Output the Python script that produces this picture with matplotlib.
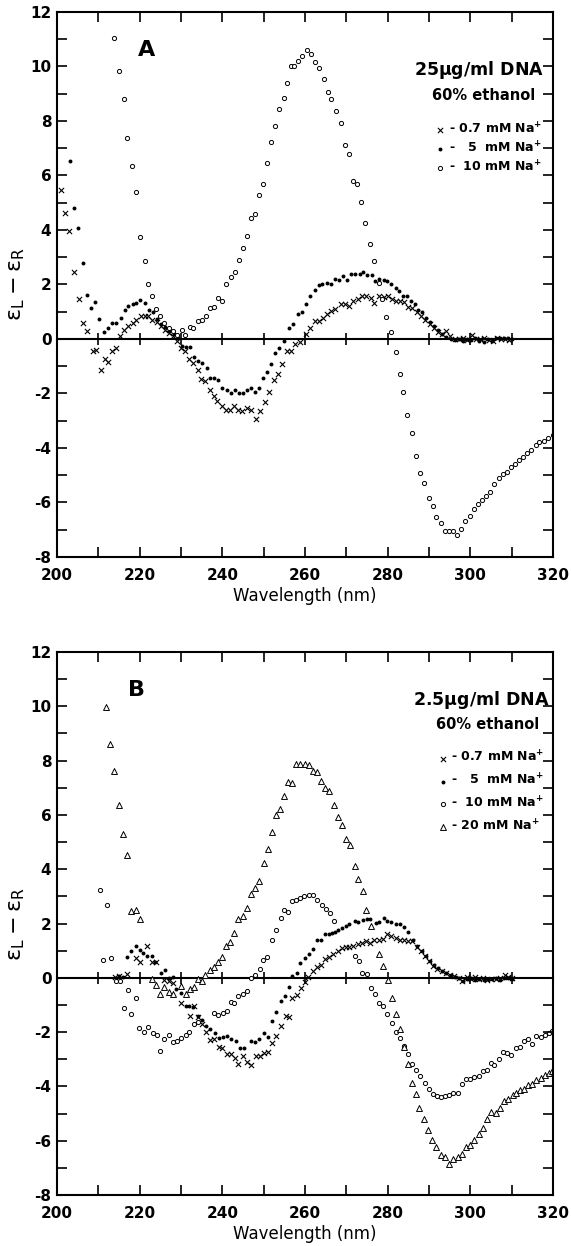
import matplotlib
matplotlib.use("Agg")
import matplotlib.pyplot as plt
from matplotlib.ticker import MultipleLocator

# ---- panel A: 25 ug/ml DNA, 60% ethanol ----
wl_a_07 = [201.0, 202.0, 202.9, 204.0, 205.3, 206.2, 207.2, 208.6, 209.4, 210.6, 211.5, 212.4, 213.4, 214.3,
           215.3, 216.3, 217.3, 218.3, 219.2, 220.3, 221.2, 222.1, 223.1, 224.1, 225.1, 226.1, 227.1, 228.1,
           229.0, 230.0, 231.0, 232.0, 233.0, 234.0, 234.9, 235.9, 236.9, 237.9, 238.8, 239.8, 240.9, 241.8,
           242.8, 243.8, 244.7, 245.9, 247.0, 248.2, 249.2, 250.3, 251.4, 252.4, 253.4, 254.5, 255.6, 256.5,
           257.5, 258.7, 260.2, 261.3, 262.3, 263.4, 264.3, 265.3, 266.4, 267.3, 268.6, 269.7, 270.7, 271.6,
           272.8, 273.8, 274.7, 275.9, 276.8, 277.9, 279.0, 280.1, 281.0, 282.0, 282.9, 284.0, 285.0, 286.0,
           287.1, 288.1, 289.1, 290.2, 291.1, 292.1, 293.1, 294.1, 295.1, 296.2, 297.2, 298.2, 299.3, 300.3,
           301.3, 302.4, 303.3, 304.4, 305.4, 306.4, 307.4, 308.4, 309.4]
cd_a_07 = [5.45, 4.64, 3.97, 2.44, 1.46, 0.58, 0.31, -0.45, -0.41, -1.14, -0.74, -0.84, -0.45, -0.33,
           0.10, 0.32, 0.47, 0.57, 0.71, 0.83, 0.83, 0.86, 0.71, 0.61, 0.47, 0.32, 0.22, 0.10,
           -0.07, -0.33, -0.44, -0.73, -0.87, -1.14, -1.46, -1.53, -1.86, -2.08, -2.26, -2.47, -2.59, -2.59,
           -2.45, -2.59, -2.66, -2.52, -2.59, -2.95, -2.63, -2.30, -1.94, -1.50, -1.28, -0.92, -0.45, -0.45,
           -0.19, -0.12, 0.17, 0.39, 0.65, 0.65, 0.76, 0.90, 1.03, 1.09, 1.27, 1.30, 1.22, 1.41,
           1.47, 1.56, 1.56, 1.51, 1.31, 1.56, 1.53, 1.59, 1.48, 1.41, 1.38, 1.34, 1.19, 1.12,
           0.98, 0.83, 0.68, 0.54, 0.39, 0.25, 0.17, 0.28, 0.10, 0.00, -0.01, 0.03, -0.04, 0.13,
           -0.01, 0.00, 0.03, -0.04, -0.07, 0.03, 0.00, 0.00, -0.04]

wl_a_5 = [203.1, 204.1, 205.2, 206.2, 207.2, 208.3, 209.3, 210.2, 211.3, 212.3, 213.3, 214.3, 215.4, 216.4,
          217.3, 218.3, 219.2, 220.2, 221.2, 222.2, 223.2, 224.2, 225.2, 226.2, 227.2, 228.2, 229.2, 230.2,
          231.2, 232.2, 233.1, 234.1, 235.0, 236.2, 237.0, 238.0, 239.0, 240.0, 241.1, 242.1, 243.1, 244.0,
          245.0, 246.0, 247.0, 248.0, 248.8, 249.8, 250.7, 251.8, 252.7, 253.7, 254.8, 256.1, 257.2, 258.2,
          259.2, 260.3, 261.3, 262.3, 263.3, 264.2, 265.3, 266.4, 267.3, 268.2, 269.3, 270.1, 271.1, 272.2,
          273.2, 274.1, 275.0, 276.1, 277.0, 278.0, 279.0, 279.9, 280.9, 281.9, 282.8, 283.8, 284.7, 285.6,
          286.5, 287.4, 288.3, 289.3, 290.3, 291.2, 292.1, 293.1, 294.1, 295.3, 296.2, 297.2, 298.2, 299.2,
          300.2, 301.2, 302.2, 303.2, 304.2, 305.2, 306.2, 307.2, 308.2, 309.2, 310.0]
cd_a_5 = [6.54, 4.82, 4.09, 2.78, 1.60, 1.14, 1.36, 0.73, 0.27, 0.42, 0.58, 0.60, 0.76, 1.06,
          1.22, 1.29, 1.33, 1.43, 1.33, 1.05, 1.00, 0.75, 0.55, 0.45, 0.30, 0.20, 0.05, -0.26,
          -0.28, -0.29, -0.65, -0.80, -0.87, -1.06, -1.43, -1.43, -1.50, -1.79, -1.86, -2.00, -1.89, -1.98,
          -2.00, -1.89, -1.79, -1.94, -1.79, -1.43, -1.21, -0.92, -0.52, -0.33, -0.07, 0.42, 0.54, 0.90,
          0.98, 1.27, 1.56, 1.80, 1.97, 2.00, 2.04, 2.00, 2.21, 2.18, 2.31, 2.18, 2.39, 2.39,
          2.39, 2.46, 2.36, 2.33, 2.11, 2.21, 2.18, 2.11, 2.02, 1.88, 1.76, 1.59, 1.56, 1.41,
          1.27, 1.05, 0.98, 0.76, 0.61, 0.47, 0.32, 0.17, 0.07, 0.00, -0.05, 0.00, -0.08, 0.00,
          -0.05, 0.03, -0.08, -0.10, 0.00, -0.08, 0.02, 0.02, 0.03, 0.02, 0.00]

wl_a_10 = [213.9, 215.0, 216.1, 217.0, 218.1, 219.1, 220.1, 221.2, 222.1, 223.1, 224.0, 225.0, 226.0, 227.0,
           228.0, 229.0, 230.3, 231.0, 232.2, 233.0, 234.0, 235.0, 236.0, 237.0, 238.0, 239.0, 240.0, 241.0,
           242.0, 243.0, 244.0, 245.0, 246.0, 247.0, 248.0, 248.8, 249.8, 250.7, 251.8, 252.7, 253.7, 254.8,
           255.7, 256.6, 257.3, 258.4, 259.3, 260.5, 261.5, 262.5, 263.5, 264.5, 265.6, 266.4, 267.6, 268.6,
           269.6, 270.6, 271.6, 272.6, 273.6, 274.6, 275.7, 276.7, 277.8, 278.7, 279.6, 280.7, 281.9, 282.9,
           283.7, 284.7, 285.9, 286.9, 287.8, 288.9, 289.9, 290.9, 291.8, 292.8, 293.9, 294.9, 295.9, 296.8,
           297.8, 298.8, 299.9, 300.9, 301.8, 302.8, 303.9, 304.8, 305.8, 306.9, 307.8, 308.8, 309.8, 310.8,
           311.8, 312.8, 313.8, 314.7, 315.8, 316.7, 317.7, 318.8, 320.0]
cd_a_10 = [11.05, 9.85, 8.80, 7.38, 6.36, 5.39, 3.74, 2.85, 2.02, 1.56, 1.10, 0.85, 0.60, 0.40,
           0.30, 0.13, 0.32, 0.13, 0.45, 0.42, 0.65, 0.68, 0.83, 1.12, 1.19, 1.50, 1.40, 2.00,
           2.27, 2.45, 2.90, 3.35, 3.78, 4.45, 4.57, 5.30, 5.67, 6.45, 7.23, 7.83, 8.43, 8.85,
           9.40, 10.03, 10.03, 10.20, 10.40, 10.60, 10.47, 10.17, 9.93, 9.55, 9.07, 8.80, 8.36, 7.92,
           7.12, 6.80, 5.81, 5.69, 5.04, 4.24, 3.49, 2.87, 2.05, 1.45, 0.80, 0.25, -0.48, -1.30,
           -1.94, -2.78, -3.46, -4.29, -4.92, -5.28, -5.84, -6.13, -6.55, -6.77, -7.03, -7.03, -7.06, -7.18,
           -6.96, -6.67, -6.49, -6.23, -6.04, -5.90, -5.75, -5.62, -5.31, -5.11, -4.96, -4.90, -4.70, -4.59,
           -4.45, -4.34, -4.19, -4.06, -3.89, -3.78, -3.76, -3.64, -3.54]

# ---- panel B: 2.5 ug/ml DNA, 60% ethanol ----
wl_b_07 = [214.1, 215.1, 216.9, 219.0, 220.0, 221.8, 222.9, 223.9, 225.9, 227.0, 228.0, 230.1, 232.1, 233.2,
           234.0, 235.0, 236.0, 237.0, 238.1, 239.1, 239.9, 241.1, 242.1, 243.1, 243.9, 244.9, 245.9, 247.0,
           248.2, 249.0, 250.0, 251.0, 252.0, 253.0, 254.1, 255.3, 256.1, 256.9, 258.0, 259.1, 260.0, 260.8,
           262.0, 263.0, 263.8, 264.9, 265.9, 266.8, 267.9, 268.9, 269.9, 270.7, 271.5, 272.8, 273.8, 274.8,
           275.8, 276.8, 277.9, 278.9, 279.9, 280.9, 282.0, 282.9, 283.9, 285.0, 285.9, 287.0, 288.0, 289.0,
           290.0, 291.0, 292.0, 293.1, 294.1, 295.1, 296.1, 297.2, 298.1, 299.1, 300.1, 301.1, 302.1, 303.1,
           304.1, 305.1, 306.1, 307.1, 308.3, 309.2, 310.1]
cd_b_07 = [0.02, 0.05, 0.15, 0.74, 0.58, 1.19, 0.58, 0.58, -0.09, -0.12, -0.18, -0.94, -1.39, -1.02,
           -1.45, -1.70, -2.00, -2.29, -2.25, -2.54, -2.58, -2.82, -2.82, -2.95, -3.19, -2.88, -3.10, -3.21,
           -2.88, -2.88, -2.76, -2.72, -2.39, -2.15, -1.78, -1.41, -1.44, -0.74, -0.62, -0.38, -0.16, 0.04,
           0.25, 0.41, 0.49, 0.70, 0.77, 0.89, 0.98, 1.11, 1.14, 1.14, 1.19, 1.23, 1.29, 1.35,
           1.29, 1.41, 1.39, 1.44, 1.60, 1.54, 1.45, 1.41, 1.41, 1.35, 1.35, 1.14, 0.98, 0.80,
           0.61, 0.45, 0.33, 0.25, 0.18, 0.12, 0.06, 0.00, -0.12, 0.03, -0.05, 0.02, -0.06, 0.00,
           -0.08, -0.03, -0.05, 0.00, 0.10, 0.02, 0.00]

wl_b_5 = [214.9, 215.9, 216.9, 217.9, 219.0, 220.0, 220.9, 221.8, 222.9, 223.8, 225.1, 226.1, 227.0, 228.0,
          228.9, 230.0, 231.1, 232.0, 233.0, 234.1, 235.1, 236.1, 237.1, 238.2, 239.1, 240.2, 241.2, 242.2,
          243.3, 244.3, 245.3, 246.9, 248.0, 248.9, 250.0, 251.0, 252.0, 253.0, 254.1, 255.1, 256.1, 256.9,
          258.0, 258.9, 259.9, 261.0, 262.0, 263.0, 263.8, 264.9, 265.7, 266.5, 267.3, 268.1, 268.9, 269.9,
          270.7, 272.0, 272.9, 274.0, 275.0, 275.8, 277.1, 278.0, 279.0, 279.9, 280.9, 282.0, 282.9, 283.9,
          285.0, 286.2, 287.2, 288.2, 289.2, 290.2, 291.2, 292.2, 293.2, 294.2, 295.2, 296.2, 297.2, 298.2,
          299.2, 300.2, 301.2, 302.2, 303.2, 304.2, 305.2, 306.2, 307.2, 308.2, 309.2, 310.1]
cd_b_5 = [0.06, 0.04, 0.77, 0.98, 1.17, 1.04, 0.90, 0.80, 0.82, 0.60, 0.18, 0.28, 0.00, 0.04,
          -0.40, -0.55, -1.02, -1.04, -1.07, -1.41, -1.56, -1.78, -1.88, -2.02, -2.20, -2.17, -2.15, -2.25,
          -2.33, -2.58, -2.58, -2.33, -2.36, -2.27, -2.02, -2.17, -1.60, -1.26, -0.86, -0.67, -0.34, 0.06,
          0.18, 0.53, 0.74, 0.89, 1.05, 1.41, 1.41, 1.60, 1.60, 1.64, 1.70, 1.76, 1.82, 1.91,
          1.97, 2.09, 2.07, 2.12, 2.15, 2.15, 2.03, 2.05, 2.19, 2.09, 2.05, 2.00, 1.97, 1.88,
          1.69, 1.38, 1.17, 1.00, 0.82, 0.63, 0.47, 0.35, 0.26, 0.18, 0.10, 0.04, -0.02, -0.10,
          -0.05, 0.00, -0.07, -0.03, -0.08, -0.04, -0.06, -0.02, -0.08, 0.00, -0.02, -0.03]

wl_b_10 = [210.3, 211.1, 212.2, 213.1, 214.2, 215.2, 216.1, 217.1, 218.0, 219.1, 219.9, 221.1, 222.1, 223.2,
           224.1, 225.0, 226.0, 227.1, 228.0, 229.0, 230.1, 231.1, 232.0, 233.2, 234.1, 238.0, 239.0, 240.1,
           241.1, 242.0, 242.9, 243.9, 244.9, 246.0, 247.0, 248.0, 249.0, 249.9, 250.9, 252.0, 253.0, 254.1,
           255.0, 255.9, 256.9, 257.9, 258.9, 259.8, 261.0, 262.0, 263.0, 264.0, 265.0, 266.0, 267.1, 272.0,
           273.0, 273.9, 274.9, 275.9, 276.9, 278.0, 278.9, 279.9, 281.0, 281.9, 282.9, 283.9, 284.9, 285.9,
           286.9, 287.9, 289.0, 289.9, 291.0, 292.0, 292.9, 293.9, 294.8, 295.9, 296.9, 297.9, 299.0, 300.0,
           301.0, 302.0, 303.1, 304.0, 304.9, 305.8, 306.9, 308.0, 308.9, 309.9, 311.0, 311.9, 313.0, 314.0,
           315.0, 316.0, 317.1, 318.1, 319.1, 319.8]
cd_b_10 = [3.25, 0.67, 2.67, 0.74, -0.12, -0.12, -1.10, -0.43, -1.33, -0.74, -1.84, -1.99, -1.80, -2.05,
           -2.11, -2.70, -2.25, -2.11, -2.36, -2.31, -2.21, -2.11, -2.00, -1.69, -1.63, -1.31, -1.37, -1.29,
           -1.23, -0.88, -0.92, -0.67, -0.61, -0.47, 0.00, 0.12, 0.31, 0.65, 0.77, 1.41, 1.78, 2.21,
           2.50, 2.42, 2.84, 2.88, 2.93, 3.01, 3.04, 3.06, 2.87, 2.67, 2.52, 2.37, 2.09, 0.80,
           0.62, 0.17, 0.13, -0.37, -0.58, -0.91, -1.03, -1.35, -1.66, -1.99, -2.21, -2.51, -2.79, -3.16,
           -3.41, -3.63, -3.86, -4.11, -4.27, -4.35, -4.39, -4.35, -4.33, -4.23, -4.23, -3.90, -3.74, -3.71,
           -3.67, -3.63, -3.44, -3.41, -3.14, -3.22, -2.98, -2.73, -2.77, -2.83, -2.57, -2.55, -2.32, -2.24,
           -2.42, -2.14, -2.18, -2.09, -2.05, -1.97]

wl_b_20 = [211.9, 212.9, 213.8, 214.9, 215.9, 216.9, 217.9, 219.0, 220.0, 222.9, 224.0, 225.0, 226.0, 227.1,
           228.0, 230.1, 231.1, 232.1, 233.2, 234.0, 235.1, 235.9, 237.0, 238.0, 239.0, 240.0, 240.9, 241.9,
           242.8, 243.9, 244.9, 245.9, 246.9, 248.0, 248.9, 250.0, 251.0, 251.9, 253.0, 253.9, 255.0, 256.0,
           256.9, 257.9, 258.9, 260.0, 261.0, 262.0, 262.8, 263.8, 264.9, 265.9, 266.9, 267.9, 268.9, 269.9,
           270.9, 272.0, 272.9, 274.0, 274.8, 276.0, 277.8, 278.8, 280.0, 281.0, 281.9, 282.9, 283.9, 284.9,
           285.9, 286.8, 287.7, 288.8, 289.8, 290.8, 291.8, 292.8, 293.9, 294.8, 295.9, 296.9, 297.9, 299.0,
           300.0, 301.0, 302.0, 303.0, 304.0, 305.1, 306.1, 307.1, 308.1, 309.2, 310.2, 311.1, 312.0, 313.0,
           314.0, 315.0, 316.0, 317.1, 318.1, 319.1, 319.8]
cd_b_20 = [9.96, 8.61, 7.61, 6.36, 5.28, 4.52, 2.45, 2.50, 2.17, -0.06, -0.28, -0.58, -0.33, -0.53,
           -0.59, -0.31, -0.58, -0.40, -0.33, -0.06, -0.12, 0.12, 0.28, 0.40, 0.59, 0.76, 1.17, 1.31,
           1.66, 2.15, 2.29, 2.58, 3.07, 3.31, 3.58, 4.23, 4.75, 5.37, 5.99, 6.22, 6.69, 7.20,
           7.16, 7.88, 7.87, 7.86, 7.83, 7.61, 7.59, 7.26, 7.00, 6.88, 6.36, 5.93, 5.62, 5.10,
           4.88, 4.12, 3.63, 3.19, 2.51, 1.90, 0.86, 0.43, -0.09, -0.74, -1.32, -1.89, -2.55, -3.16,
           -3.86, -4.27, -4.78, -5.19, -5.60, -5.99, -6.24, -6.52, -6.61, -6.85, -6.67, -6.61, -6.48, -6.24,
           -6.15, -5.97, -5.74, -5.54, -5.19, -4.94, -4.98, -4.80, -4.55, -4.48, -4.33, -4.23, -4.12, -4.08,
           -3.96, -3.90, -3.78, -3.68, -3.59, -3.49, -3.44]

labels = {"0.7": "- 0.7 mM Na$^{+}$", "5": "-   5  mM Na$^{+}$",
          "10": "-  10 mM Na$^{+}$", "20": "- 20 mM Na$^{+}$"}

plt.rcParams['font.family'] = ['DejaVu Sans']
plt.rcParams['font.weight'] = 'bold'
plt.rcParams['axes.unicode_minus'] = False
plt.rcParams['mathtext.default'] = 'regular'

styles = {
    "0.7": dict(marker='x', s=14, c='k', linewidths=0.8),
    "5": dict(marker='o', s=8, c='k', linewidths=0),
    "10": dict(marker='o', s=9, facecolors='white', edgecolors='k', linewidths=0.7),
    "20": dict(marker='^', s=18, facecolors='white', edgecolors='k', linewidths=0.7),
}


def setup(ax):
    ax.set_xlim(200, 320)
    ax.set_ylim(-8, 12)
    ax.xaxis.set_major_locator(MultipleLocator(20))
    ax.xaxis.set_minor_locator(MultipleLocator(10))
    ax.yaxis.set_major_locator(MultipleLocator(2))
    ax.yaxis.set_minor_locator(MultipleLocator(1))
    ax.tick_params(which='both', direction='in', top=True, right=True, length=7, width=1.2)
    ax.tick_params(axis='y', labelsize=11, pad=4)
    ax.tick_params(axis='x', labelsize=11, pad=8)
    for sp in ax.spines.values():
        sp.set_linewidth(1.5)
    # zero line with its own tick marks
    zero = ax.secondary_xaxis(8 / 20)
    zero.set_xticks(range(210, 320, 10))
    zero.tick_params(direction='inout', length=8, width=1.2, labelbottom=False)
    zero.spines['bottom'].set_linewidth(1.5)
    ax.set_xlabel('Wavelength (nm)', fontsize=12, labelpad=3)
    ax.set_ylabel(r'$\epsilon_L - \epsilon_R$', fontsize=16, labelpad=2)


fig = plt.figure(figsize=(5.71, 12.46), dpi=100)
ax_a = fig.add_axes([0.0998, 0.553, 0.8687, 0.4374])
ax_b = fig.add_axes([0.0998, 0.0409, 0.8687, 0.4358])

for ax in (ax_a, ax_b):
    setup(ax)

h = {}
h["0.7"] = ax_a.scatter(wl_a_07, cd_a_07, **styles["0.7"])
h["5"] = ax_a.scatter(wl_a_5, cd_a_5, **styles["5"])
h["10"] = ax_a.scatter(wl_a_10, cd_a_10, **styles["10"])
ax_a.legend([h[k] for k in ("0.7", "5", "10")], [labels[k] for k in ("0.7", "5", "10")],
            loc='upper left', bbox_to_anchor=(0.765, 0.80), frameon=False, fontsize=9,
            handlelength=0.6, handletextpad=0.4, labelspacing=0.3, borderpad=0, borderaxespad=0)
ax_a.text(0.181, 0.93, 'A', transform=ax_a.transAxes, fontsize=16, ha='center', va='center')
ax_a.text(0.85, 0.894, '25$\\mu$g/ml DNA', transform=ax_a.transAxes, fontsize=12.5, ha='center', va='center')
ax_a.text(0.86, 0.846, '60% ethanol', transform=ax_a.transAxes, fontsize=10.5, ha='center', va='center')

g = {}
g["0.7"] = ax_b.scatter(wl_b_07, cd_b_07, **styles["0.7"])
g["5"] = ax_b.scatter(wl_b_5, cd_b_5, **styles["5"])
g["10"] = ax_b.scatter(wl_b_10, cd_b_10, **styles["10"])
g["20"] = ax_b.scatter(wl_b_20, cd_b_20, **styles["20"])
ax_b.legend([g[k] for k in ("0.7", "5", "10", "20")], [labels[k] for k in ("0.7", "5", "10", "20")],
            loc='upper left', bbox_to_anchor=(0.77, 0.82), frameon=False, fontsize=9,
            handlelength=0.6, handletextpad=0.4, labelspacing=0.6, borderpad=0, borderaxespad=0)
ax_b.text(0.161, 0.93, 'B', transform=ax_b.transAxes, fontsize=16, ha='center', va='center')
ax_b.text(0.855, 0.912, '2.5$\\mu$g/ml DNA', transform=ax_b.transAxes, fontsize=12.5, ha='center', va='center')
ax_b.text(0.868, 0.867, '60% ethanol', transform=ax_b.transAxes, fontsize=10.5, ha='center', va='center')

fig.savefig("out.png", dpi=100)
